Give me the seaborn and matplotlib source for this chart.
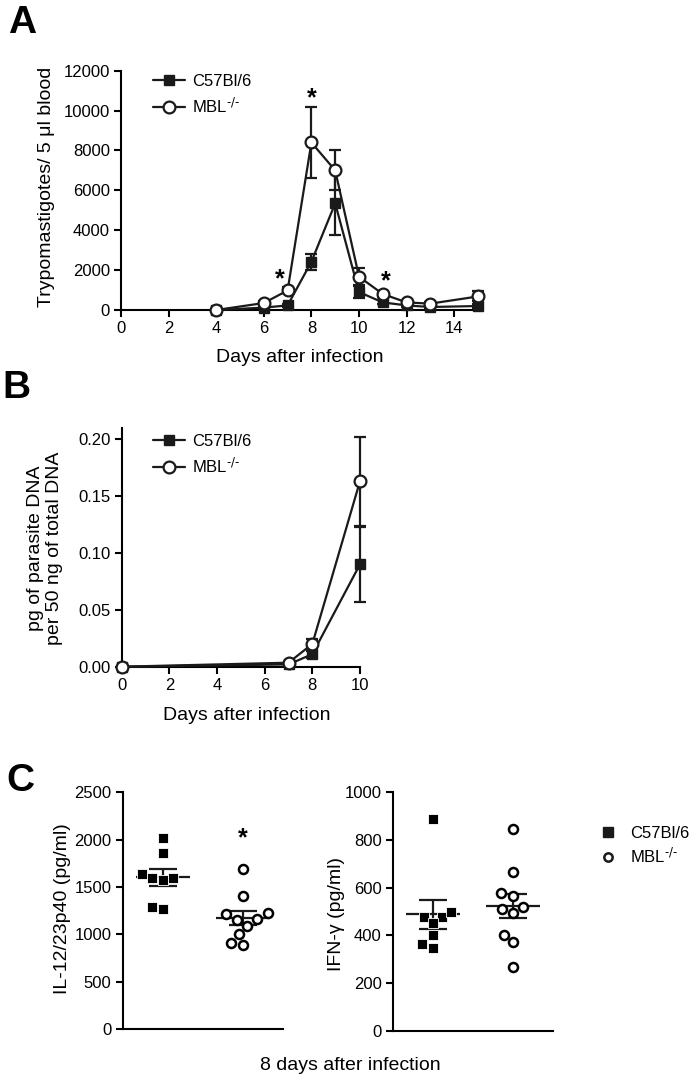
import numpy as np
import pandas as pd
import matplotlib
matplotlib.use("Agg")
import matplotlib.pyplot as plt
import seaborn as sns
from matplotlib.lines import Line2D

# ---------------- data ----------------
# Panel A: parasitemia
days_a = [4, 6, 7, 8, 9, 10, 11, 12, 13, 15]
c57_a = [0, 120, 230, 2420, 5350, 900, 380, 230, 150, 200]
c57_a_err = [0, 50, 80, 400, 1600, 300, 100, 60, 40, 80]
mbl_a = [0, 350, 980, 8400, 7000, 1670, 800, 380, 320, 680]
mbl_a_err = [0, 80, 150, 1800, 1000, 420, 150, 80, 60, 250]
xticks_a = [0, 2, 4, 6, 8, 10, 12, 14]
yticks_a = [0, 2000, 4000, 6000, 8000, 10000, 12000]

# Panel B: parasite DNA
days_b = [0, 7, 8, 10]
c57_b = [0.0, 0.002, 0.011, 0.090]
c57_b_err = [0.0, 0.001, 0.003, 0.033]
mbl_b = [0.0, 0.0035, 0.020, 0.163]
mbl_b_err = [0.0, 0.001, 0.004, 0.039]
xticks_b = [0, 2, 4, 6, 8, 10]
yticks_b = [0.00, 0.05, 0.10, 0.15, 0.20]

# Panel C: cytokines at day 8
groups = ["C57Bl/6", "MBL-/-"]
il12_c57 = [2020, 1860, 1600, 1570, 1640, 1590, 1265, 1290]
il12_mbl = [1690, 1400, 1160, 1210, 1155, 1090, 1220, 1000, 885, 910]
ifn_c57 = [887, 478, 499, 476, 451, 401, 348, 364]
ifn_mbl = [845, 667, 579, 565, 520, 493, 509, 403, 371, 266]
yticks_il12 = [0, 500, 1000, 1500, 2000, 2500]
yticks_ifn = [0, 200, 400, 600, 800, 1000]

legend_labels = ["C57Bl/6", r"MBL$^{\text{-/-}}$"]

# ---------------- style ----------------
sns.set_theme(style="ticks")
plt.rcParams["font.family"] = ["Liberation Sans", "DejaVu Sans"]
plt.rcParams["mathtext.default"] = "regular"
plt.rcParams.update({
    "axes.linewidth": 1.5,
    "xtick.major.width": 1.5,
    "ytick.major.width": 1.5,
    "xtick.major.size": 5,
    "ytick.major.size": 5,
    "xtick.major.pad": 3,
    "ytick.major.pad": 3,
    "xtick.labelsize": 12,
    "ytick.labelsize": 12,
    "axes.labelsize": 14,
    "xtick.color": "black",
    "ytick.color": "black",
    "axes.edgecolor": "black",
    "text.color": "black",
    "axes.labelcolor": "black",
})

W, H = 697, 1081
fig = plt.figure(figsize=(W / 100, H / 100), dpi=100)


def axes_px(left, top, right, bottom):
    return fig.add_axes([left / W, 1 - bottom / H, (right - left) / W, (bottom - top) / H])


def style(ax):
    sns.despine(ax=ax)
    ax.tick_params(direction="out")


LW = 1.6


def line_panel(ax, x, y1, e1, y2, e2):
    x = np.asarray(x)
    for y, e in [(y1, e1), (y2, e2)]:
        y = np.asarray(y)
        e = np.asarray(e)
        m = e > 0
        ax.errorbar(x[m], y[m], yerr=e[m], fmt="none", ecolor="k", elinewidth=LW,
                    capsize=4.5, capthick=LW, zorder=2, clip_on=False)
    l1, = ax.plot(x, y1, "-", color="k", lw=LW, marker="s", ms=6.5, mfc="k", mec="k",
                  clip_on=False, zorder=3, label=legend_labels[0])
    l2, = ax.plot(x, y2, "-", color="k", lw=LW, marker="o", ms=8.5, mfc="white", mec="k",
                  mew=1.6, clip_on=False, zorder=4, label=legend_labels[1])
    return [l1, l2]


# ---------------- Panel A ----------------
axA = axes_px(121, 70.7, 478, 310)
hA = line_panel(axA, days_a, c57_a, c57_a_err, mbl_a, mbl_a_err)
axA.set_xlim(0, 15)
axA.set_ylim(0, 12000)
axA.set_xticks(xticks_a)
axA.set_yticks(yticks_a)
axA.set_xlabel("Days after infection")
axA.set_ylabel("Trypomastigotes/ 5 μl blood")
axA.yaxis.set_label_coords(-0.185, 0.515)
axA.xaxis.set_label_coords(0.5, -0.165)
style(axA)
axA.legend(handles=hA, loc="upper left", bbox_to_anchor=(0.09, 0.985), frameon=False,
           borderpad=0, borderaxespad=0, handlelength=1.9, handletextpad=0.45,
           labelspacing=0.45, fontsize=12)
for xs, ys in [(6.68, 1550), (8.0, 10600), (11.13, 1420)]:
    axA.text(xs, ys, "*", ha="center", va="center", fontsize=18, fontweight="bold")

# ---------------- Panel B ----------------
axB = axes_px(121.7, 428, 360, 666.7)
hB = line_panel(axB, days_b, c57_b, c57_b_err, mbl_b, mbl_b_err)
axB.set_xlim(0, 10)
axB.set_ylim(0, 0.2097)
axB.set_xticks(xticks_b)
axB.set_yticks(yticks_b)
axB.yaxis.set_major_formatter(matplotlib.ticker.FormatStrFormatter("%.2f"))
axB.set_xlabel("Days after infection")
axB.set_ylabel("pg of parasite DNA\nper 50 ng of total DNA")
axB.yaxis.set_label_coords(-0.245, 0.495)
axB.xaxis.set_label_coords(0.525, -0.17)
style(axB)
axB.legend(handles=hB, loc="upper left", bbox_to_anchor=(0.131, 0.975), frameon=False,
           borderpad=0, borderaxespad=0, handlelength=1.9, handletextpad=0.45,
           labelspacing=0.45, fontsize=12)


# ---------------- Panel C ----------------
def scatter_panel(ax, v1, v2, yticks, ylabel):
    df1 = pd.DataFrame({"group": groups[0], "value": v1})
    df2 = pd.DataFrame({"group": groups[1], "value": v2})
    for i, vals in enumerate([v1, v2]):
        m = np.mean(vals)
        se = np.std(vals, ddof=1) / np.sqrt(len(vals))
        ax.hlines(m, i - 0.34, i + 0.34, color="k", lw=LW, zorder=2)
        ax.errorbar(i, m, yerr=se, fmt="none", ecolor="k", elinewidth=LW,
                    capsize=10, capthick=LW, zorder=2)
    sns.swarmplot(data=df1, x="group", y="value", order=groups, ax=ax, marker="s",
                  color="black", edgecolor="white", linewidth=0.6, size=7, zorder=3)
    sns.swarmplot(data=df2, x="group", y="value", order=groups, ax=ax, marker="o",
                  color="white", edgecolor="black", linewidth=1.8, size=6.5, zorder=3)
    ax.set_xlim(-0.5, 1.5)
    ax.set_ylim(0, yticks[-1])
    ax.set_yticks(yticks)
    ax.set_xticks([])
    ax.set_xlabel("")
    ax.set_ylabel(ylabel)
    style(ax)


axC1 = axes_px(122.7, 792.3, 283, 1029)
scatter_panel(axC1, il12_c57, il12_mbl, yticks_il12, "IL-12/23p40 (pg/ml)")
axC1.yaxis.set_label_coords(-0.32, 0.507)
axC1.text(1, 2010, "*", ha="center", va="center", fontsize=18, fontweight="bold")

axC2 = axes_px(392.7, 792.3, 553, 1030.7)
scatter_panel(axC2, ifn_c57, ifn_mbl, yticks_ifn, "IFN-γ (pg/ml)")
axC2.yaxis.set_label_coords(-0.30, 0.49)

fig.text(350 / W, 1 - 1057 / H, "8 days after infection", ha="center", va="top", fontsize=14)

legC = [
    Line2D([], [], marker="s", ls="none", color="k", ms=6.5),
    Line2D([], [], marker="o", ls="none", mfc="white", mec="k", mew=1.8, ms=6),
]
fig.legend(handles=legC, labels=legend_labels, loc="upper left",
           bbox_to_anchor=(600 / W, 1 - 826 / H), frameon=False, borderpad=0,
           borderaxespad=0, handlelength=1.0, handletextpad=0.8, labelspacing=0.35,
           fontsize=12)

# ---------------- panel letters ----------------
for letter, x, y in [("A", 8, 33), ("B", 2, 398), ("C", 6, 791)]:
    fig.text(x / W, 1 - y / H, letter, ha="left", va="baseline", fontsize=28,
             fontweight="bold")

fig.savefig("out.png", dpi=100)
